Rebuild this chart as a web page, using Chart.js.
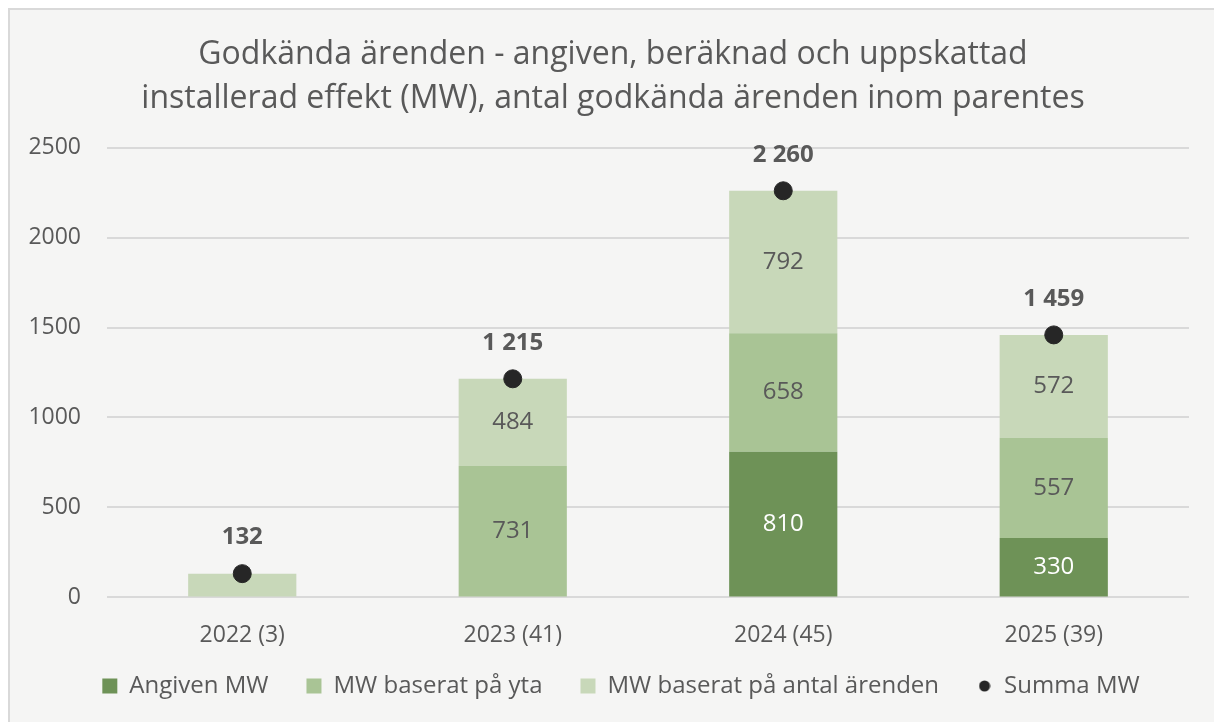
<!DOCTYPE html>
<html lang="sv">
<head>
<meta charset="utf-8">
<script src="https://cdn.jsdelivr.net/npm/chart.js@4/dist/chart.umd.min.js"></script>
<style>
  html, body { margin: 0; padding: 0; background: #ffffff; overflow: hidden; }
  #ram {
    position: absolute; left: 8px; top: 8px;
    width: 1206px; height: 720px;
    border: 2px solid #d9d9d9; background: #f5f5f4;
  }
  #graf { display: block; }
</style>
</head>
<body>
<div id="ram"><canvas id="graf" width="1206" height="712"></canvas></div>
<script>
const kategorier = ["2022 (3)", "2023 (41)", "2024 (45)", "2025 (39)"];
const angivenMW = [0, 0, 810, 330];
const mwYta = [0, 731, 658, 557];
const mwAntal = [132, 484, 792, 572];
const summaMW = [132, 1215, 2260, 1459];

const textFarg = "#595959";
const fontNamn = "'Open Sans', sans-serif";

function formatera(v) {
  return String(v).replace(/\B(?=(\d{3})+(?!\d))/g, " ");
}

// liten prick till legenden
const prick = document.createElement("canvas");
prick.width = 12;
prick.height = 12;
const pctx = prick.getContext("2d");
pctx.fillStyle = "#262626";
pctx.beginPath();
pctx.arc(6, 6, 5.5, 0, Math.PI * 2);
pctx.fill();

// egna dataetiketter, inget datalabels-plugin finns
const etikettPlugin = {
  id: "etiketter",
  afterLayout(chart) {
    // axlarnas etiketter klipps annars mot sina rutor
    chart.scales.x.bottom += 40;
    chart.scales.y.left -= 40;
    chart.legend.left += 8;
    chart.legend.right += 8;
  },
  afterDatasetsDraw(chart) {
    const ctx = chart.ctx;
    ctx.save();
    ctx.textAlign = "center";
    ctx.textBaseline = "middle";
    chart.data.datasets.forEach((ds, i) => {
      const meta = chart.getDatasetMeta(i);
      meta.data.forEach((el, j) => {
        const v = ds.data[j];
        if (!v) return;
        if (ds.type === "line") {
          ctx.font = "bold 24px " + fontNamn;
          ctx.fillStyle = textFarg;
          ctx.fillText(formatera(v), el.x, el.y - 36);
        } else {
          if (Math.abs(el.base - el.y) < 40) return;
          ctx.font = "24px " + fontNamn;
          ctx.fillStyle = ds.etikettFarg;
          ctx.fillText(formatera(v), el.x, (el.y + el.base) / 2);
        }
      });
    });
    ctx.restore();
  },
};

new Chart(document.getElementById("graf"), {
  type: "bar",
  data: {
    labels: kategorier,
    datasets: [
      {
        label: "Summa MW",
        type: "line",
        data: summaMW,
        showLine: false,
        pointRadius: 9,
        pointHoverRadius: 9,
        pointStyle: "circle",
        backgroundColor: "#262626",
        borderColor: "#262626",
        stack: "summa",
        order: 0,
      },
      {
        label: "Angiven MW",
        data: angivenMW,
        backgroundColor: "#6e9257",
        etikettFarg: "#ffffff",
        stack: "mw",
        order: 1,
      },
      {
        label: "MW baserat på yta",
        data: mwYta,
        backgroundColor: "#a9c495",
        etikettFarg: textFarg,
        stack: "mw",
        order: 1,
      },
      {
        label: "MW baserat på antal ärenden",
        data: mwAntal,
        backgroundColor: "#c8d8b9",
        etikettFarg: textFarg,
        stack: "mw",
        order: 1,
      },
    ],
  },
  options: {
    responsive: false,
    animation: false,
    layout: { padding: { left: 27, right: 27, top: 22, bottom: 14 } },
    datasets: { bar: { barPercentage: 0.4, categoryPercentage: 1 } },
    scales: {
      x: {
        stacked: true,
        grid: { display: false },
        border: { display: false },
        ticks: { color: textFarg, font: { family: fontNamn, size: 23 }, padding: 16 },
        afterFit: (s) => { s.height = s.height - 29; },
      },
      y: {
        stacked: true,
        min: 0,
        max: 2500,
        ticks: {
          stepSize: 500,
          color: textFarg,
          font: { family: fontNamn, size: 23 },
          padding: 26,
          callback: (v) => String(v),
        },
        grid: { color: "#d9d9d9", lineWidth: 2, drawTicks: false },
        border: { display: false },
        afterFit: (s) => { s.width = 70; },
      },
    },
    plugins: {
      title: {
        display: true,
        text: [
          "Godkända ärenden - angiven, beräknad och uppskattad",
          "installerad effekt (MW), antal godkända ärenden inom parentes",
        ],
        color: textFarg,
        font: { family: fontNamn, size: 32, weight: "normal", lineHeight: 1.4 },
        padding: { top: 0, bottom: 26 },
      },
      legend: {
        position: "bottom",
        labels: {
          color: textFarg,
          font: { family: fontNamn, size: 24 },
          usePointStyle: true,
          boxWidth: 15,
          boxHeight: 15,
          padding: 38,
          sort: (a, b) => {
            const o = [1, 2, 3, 0];
            return o.indexOf(a.datasetIndex) - o.indexOf(b.datasetIndex);
          },
          generateLabels(chart) {
            return chart.data.datasets.map((ds, i) => ({
              text: ds.label,
              fillStyle: ds.backgroundColor,
              strokeStyle: ds.backgroundColor,
              fontColor: textFarg,
              lineWidth: 0,
              pointStyle: ds.type === "line" ? prick : "rect",
              datasetIndex: i,
              hidden: false,
            }));
          },
        },
      },
      tooltip: { enabled: false },
    },
  },
  plugins: [etikettPlugin],
});
</script>
</body>
</html>
